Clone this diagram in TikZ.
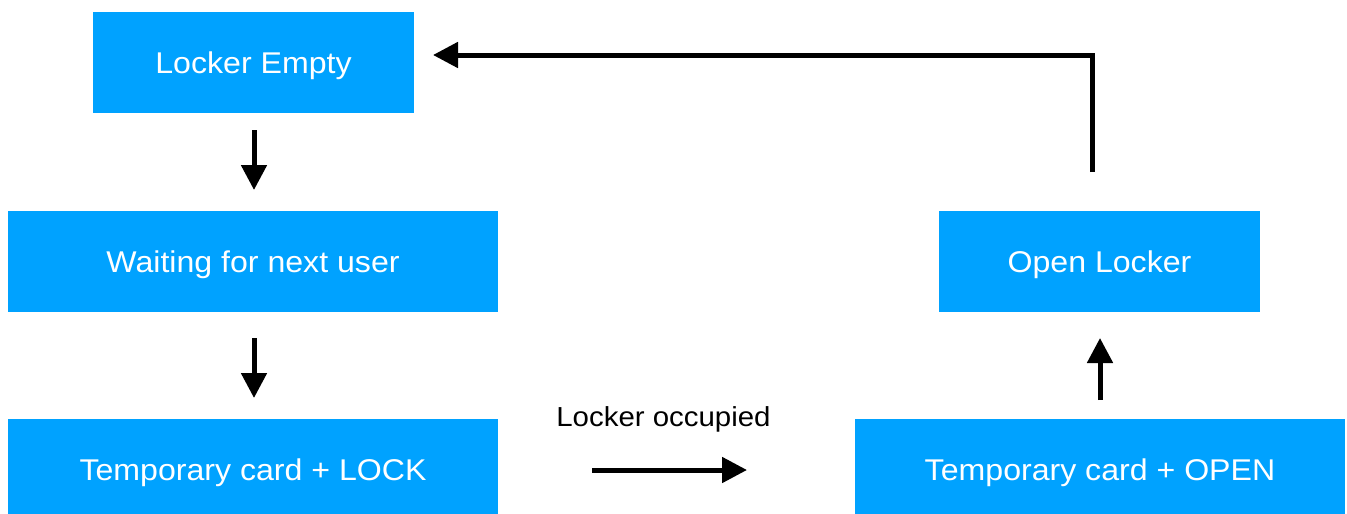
\documentclass[tikz,border=0pt]{standalone}
\usepackage{fontspec}
\setmainfont{Liberation Sans}[FakeStretch=1.07]
\usetikzlibrary{arrows.meta}
\definecolor{boxblue}{RGB}{0,162,255}
\tikzset{
  state/.style={fill=boxblue, text=white, inner sep=0pt, text depth=0pt, font=\fontsize{30}{34}\selectfont},
  flow/.style={line width=5pt, -{Triangle[length=25pt,width=25pt]}}
}
\begin{document}
\begin{tikzpicture}[x=1pt,y=-1pt]
\useasboundingbox (0,0) rectangle (1347,514);
\begin{scope}
\clip (0,0) rectangle (1347,514);
\node[state, minimum width=321pt, minimum height=101pt] (empty) at (253.5,62.5) {Locker Empty};
\node[state, minimum width=490pt, minimum height=101pt] (wait) at (253,261.5) {Waiting for next user};
\node[state, minimum width=490pt, minimum height=101pt] (lock) at (253,469.5) {Temporary card + LOCK};
\node[state, minimum width=321pt, minimum height=101pt] (open) at (1099.5,261.5) {Open Locker};
\node[state, minimum width=490pt, minimum height=101pt] (topen) at (1100,469.5) {Temporary card + OPEN};
\end{scope}
\node[font=\fontsize{27.5}{32}\selectfont, anchor=base] (occ) at (663.5,426) {Locker occupied};
\coordinate (a1s) at (254,130);
\coordinate (a1e) at (254,190);
\coordinate (a2s) at (254,338);
\coordinate (a2e) at (254,398);
\coordinate (a3s) at (592,470);
\coordinate (a3e) at (747,470);
\coordinate (a4s) at (1100,400);
\coordinate (a4e) at (1100,338);
\coordinate (a5s) at (1092,172);
\coordinate (a5c) at (1092,55);
\coordinate (a5e) at (433,55);
\draw[flow] (a1s) -- (a1e);
\draw[flow] (a2s) -- (a2e);
\draw[flow] (a3s) -- (a3e);
\draw[flow] (a4s) -- (a4e);
\draw[flow] (a5s) -- (a5c) -- (a5e);
\end{tikzpicture}
\end{document}
